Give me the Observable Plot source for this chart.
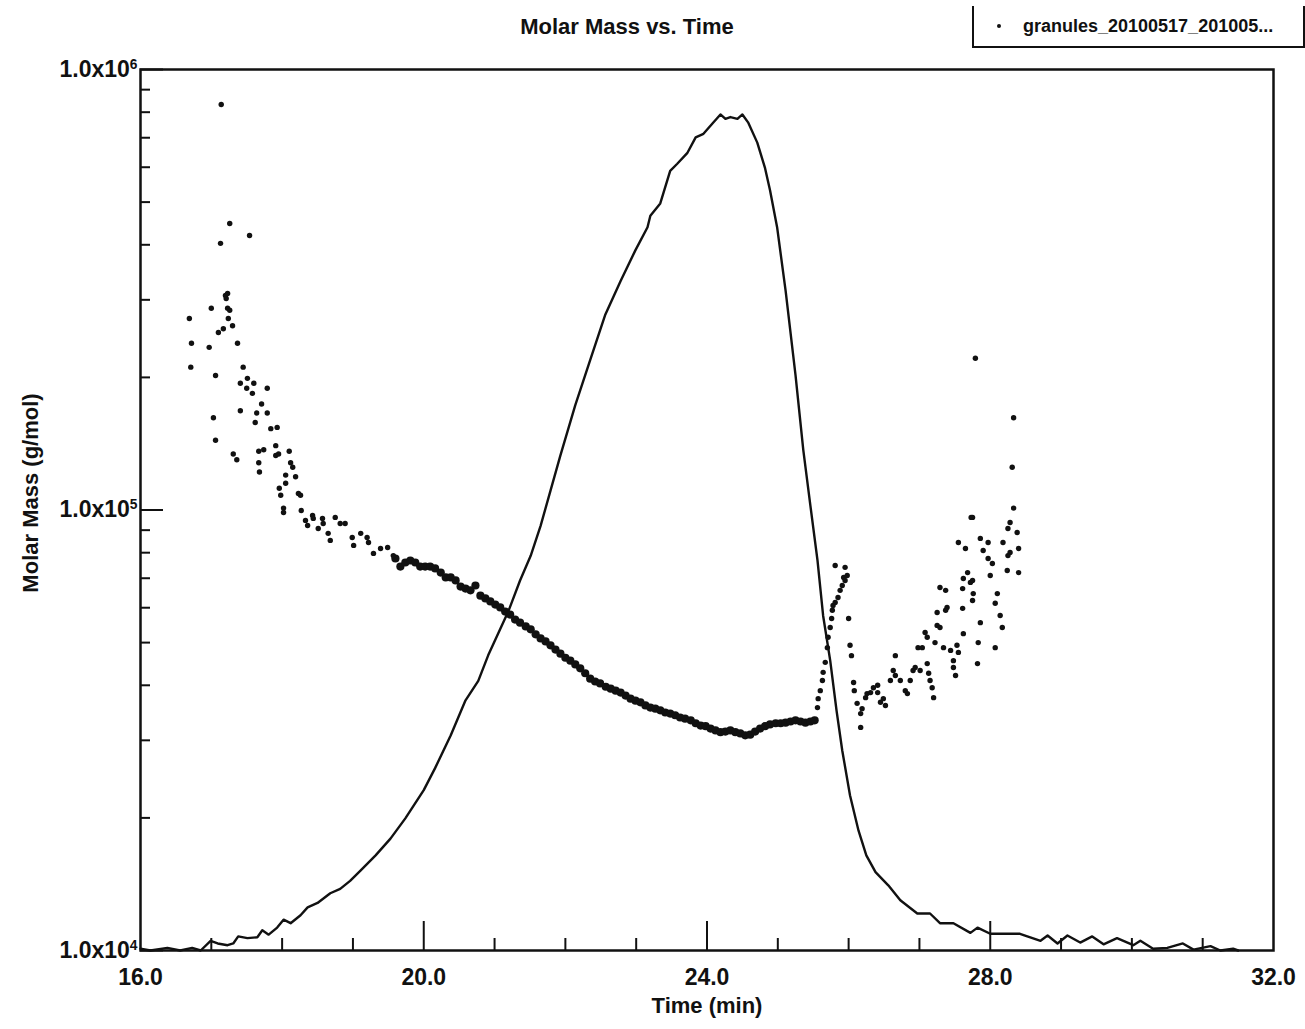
<!DOCTYPE html>
<html>
<head>
<meta charset="utf-8">
<script src="https://cdn.jsdelivr.net/npm/d3@7"></script>
<script src="https://cdn.jsdelivr.net/npm/@observablehq/plot@0.6"></script>
<style>
  html, body { margin: 0; padding: 0; background: #fff; }
  #wrap { position: relative; width: 1305px; height: 1029px; font-family: "Liberation Sans", Arial, Helvetica, sans-serif; }
  #title { position: absolute; left: 0; width: 1254px; top: 16px; text-align: center; font-size: 22px; line-height: 22px; font-weight: bold; color: #111; }
  #legend { position: absolute; left: 972px; top: 6px; width: 329px; height: 40px; border-left: 2px solid #111; border-right: 2px solid #111; border-bottom: 2px solid #111; }
  #legend .txt { position: absolute; left: 49px; top: 11px; font-size: 18px; line-height: 18px; font-weight: bold; color: #111; white-space: nowrap; }
  #legend .mk { position: absolute; left: 23px; top: 18px; width: 4px; height: 4px; border-radius: 2px; background: #111; }
</style>
</head>
<body>
<div id="wrap">
  <div id="chart"></div>
  <div id="title">Molar Mass vs. Time</div>
  <div id="legend"><span class="mk"></span><span class="txt">granules_20100517_201005...</span></div>
</div>
<script>
// ---- detector trace (relative signal, 0 = bottom of frame, 1 = top) ----
const curveTime = [16.00,16.14,16.38,16.56,16.73,16.85,16.99,17.09,17.23,17.31,17.38,17.51,17.65,17.72,17.81,17.93,18.02,18.12,18.26,18.36,18.50,18.68,18.82,18.96,19.11,19.32,19.53,19.74,20.00,20.16,20.38,20.59,20.77,20.91,21.08,21.20,21.36,21.51,21.65,21.79,21.93,22.14,22.35,22.56,22.78,22.99,23.16,23.20,23.34,23.48,23.58,23.72,23.84,23.95,24.08,24.19,24.26,24.33,24.43,24.50,24.58,24.71,24.82,24.89,24.99,25.11,25.25,25.36,25.46,25.56,25.64,25.74,25.83,25.91,26.02,26.14,26.25,26.38,26.56,26.73,26.97,27.15,27.29,27.48,27.72,27.82,28.00,28.42,28.71,28.81,28.95,29.09,29.27,29.44,29.60,29.79,30.02,30.12,30.30,30.50,30.72,30.87,31.11,31.25,31.43,31.50];
const curveSignal = [0.002,0,0.003,0,0.003,0,0.011,0.008,0.006,0.008,0.016,0.014,0.015,0.023,0.018,0.026,0.035,0.031,0.040,0.049,0.054,0.065,0.070,0.079,0.091,0.108,0.127,0.150,0.182,0.207,0.244,0.284,0.306,0.335,0.365,0.386,0.420,0.448,0.482,0.522,0.562,0.619,0.670,0.721,0.760,0.795,0.821,0.834,0.848,0.885,0.893,0.905,0.923,0.927,0.939,0.949,0.944,0.946,0.944,0.949,0.940,0.917,0.888,0.863,0.821,0.749,0.653,0.568,0.505,0.443,0.380,0.329,0.272,0.227,0.176,0.136,0.108,0.089,0.074,0.057,0.042,0.042,0.031,0.031,0.020,0.026,0.019,0.019,0.011,0.017,0.008,0.017,0.009,0.016,0.007,0.014,0.006,0.011,0.002,0.003,0.008,0.001,0.005,0,0.002,0];

// ---- molar mass, dense band ----
const bandTime = [19.60,19.67,19.74,19.81,19.88,19.95,20.02,20.09,20.16,20.24,20.31,20.38,20.45,20.52,20.59,20.66,20.73,20.80,20.87,20.94,21.01,21.08,21.15,21.22,21.29,21.36,21.44,21.51,21.58,21.65,21.72,21.79,21.86,21.93,22.00,22.07,22.14,22.21,22.28,22.35,22.42,22.49,22.57,22.64,22.71,22.78,22.85,22.92,22.99,23.06,23.13,23.20,23.27,23.34,23.41,23.48,23.55,23.62,23.69,23.77,23.84,23.91,23.98,24.05,24.12,24.19,24.26,24.33,24.40,24.47,24.54,24.61,24.68,24.75,24.82,24.89,24.97,25.04,25.11,25.18,25.25,25.32,25.39,25.46,25.52];
const bandMass = [77600,74400,76000,76800,76000,74400,74400,74400,73700,72100,70300,70300,69200,67000,66300,65700,67400,63900,63000,62000,61000,60100,58800,57900,56400,55500,54400,53600,52200,51100,50300,49300,48200,47200,46200,45500,44600,43700,42600,41400,40800,40400,39700,39300,38900,38500,37900,37300,36900,36600,36000,35600,35400,35100,34700,34500,34200,33800,33600,33300,32800,32400,32300,31900,31600,31300,31400,31600,31300,31100,30800,30900,31400,31900,32300,32600,32800,32800,32900,33100,33300,33100,32900,33100,33300];

// ---- molar mass, sparse points ----
const sparseTime = [17.14,17.26,17.54,17.13,17.21,17.20,17.23,17.00,17.23,17.26,16.69,17.24,17.30,17.17,17.10,16.72,16.97,17.37,16.71,17.45,17.06,17.51,17.41,17.60,17.50,17.79,17.58,17.03,17.06,17.41,17.64,17.71,17.79,17.62,17.84,17.93,17.31,17.36,17.67,17.74,17.67,17.68,17.91,17.91,17.95,18.10,18.12,18.15,18.05,18.19,17.96,18.05,17.98,18.23,18.26,18.02,18.02,18.27,18.33,18.36,18.43,18.44,18.57,18.58,18.51,18.65,18.68,18.75,18.82,18.89,18.99,19.01,19.11,19.20,19.22,19.29,19.39,19.49,19.57,
  25.56,25.57,25.60,25.63,25.64,25.67,25.70,25.71,25.74,25.76,25.77,25.78,25.81,25.85,25.88,25.91,25.93,25.95,25.98,25.81,25.95,26.00,26.02,26.04,26.07,26.08,26.12,26.17,26.19,26.17,26.24,26.26,26.31,26.35,26.41,26.41,26.45,26.52,26.49,26.59,26.63,26.66,26.73,26.66,26.83,26.80,26.87,26.91,26.94,27.01,27.11,27.13,27.15,27.18,27.20,26.98,27.04,27.08,27.11,27.22,27.34,27.44,27.48,27.48,27.51,27.25,27.25,27.29,27.39,27.37,27.29,27.37,27.55,27.65,27.68,27.61,27.62,27.72,27.75,27.76,27.75,27.61,27.62,27.53,27.55,27.75,27.86,27.97,27.90,27.97,28.03,28.00,27.86,27.83,27.82,28.10,28.07,28.14,28.17,28.07,28.18,28.25,28.28,28.24,28.28,28.33,28.38,28.40,28.40,27.79,28.33,28.31,27.73,28.25];
const sparseMass = [833000,447000,420000,403000,302000,307000,310000,287000,287000,284000,272000,272000,262000,258000,253000,239000,234000,239000,211000,211000,202000,199000,194000,194000,189000,189000,184000,162000,144000,168000,166000,174000,166000,158000,153000,154000,134000,130000,136000,137000,128000,122000,140000,133000,134000,136000,128000,125000,120000,119000,112000,115000,108000,109000,108000,101000,98700,99700,94700,92200,97200,95700,95700,93200,90800,88500,85300,96200,93200,93200,86600,83100,88500,86600,84400,79700,81800,82200,78800,
  35600,37300,38900,41000,42800,45100,48700,51400,54100,56700,59200,60700,61700,63300,65700,67400,70300,69200,71000,74800,74100,56700,49300,46700,40600,38900,36400,34500,35400,32100,37500,38300,38500,39500,40000,38500,36600,36000,37300,41000,43200,42100,41000,46700,38300,38900,41000,43200,43900,43200,44800,42600,41000,39500,37500,48700,48700,52700,51400,50000,48700,48000,45500,43900,42100,58500,54700,54100,60100,59200,66700,65700,84400,81800,72100,66300,69900,68500,69200,64600,62300,59800,52400,49300,47500,96200,86200,84400,80900,77600,75600,71000,55500,50000,44800,64600,61400,57600,54100,48700,84400,78800,80100,72900,93700,101000,88900,81800,72100,221000,162000,125000,96200,90800];

// ---- axes ----
const xLabelTicks = [16, 20, 24, 28, 32];
const xMajorTicks = [20, 24, 28];
const xMinorTicks = [17, 18, 19, 21, 22, 23, 25, 26, 27, 29, 30, 31];
const yMajorTicks = [1e4, 1e5, 1e6];
const yMinorTicks = [2e4, 3e4, 4e4, 5e4, 6e4, 7e4, 8e4, 9e4, 2e5, 3e5, 4e5, 5e5, 6e5, 7e5, 8e5, 9e5];

const curve = curveTime.map((t, i) => ({t, s: curveSignal[i]}));
const band = bandTime.map((t, i) => ({t, m: bandMass[i]}));
const sparse = sparseTime.map((t, i) => ({t, m: sparseMass[i]}));

const W = 1305, H = 1029, mL = 140, mR = 32, mT = 69, mB = 79;
const fw = W - mL - mR, fh = H - mT - mB;

const chart = Plot.plot({
  width: W, height: H,
  marginLeft: mL, marginRight: mR, marginTop: mT, marginBottom: mB,
  x: {domain: [16, 32]},
  y: {type: "log", domain: [1e4, 1e6]},
  style: {fontFamily: '"Liberation Sans", Arial, Helvetica, sans-serif', background: "white", color: "#111"},
  marks: [
    Plot.ruleX(xMajorTicks, {x: d => d, insetTop: fh - 29, stroke: "#111", strokeWidth: 2}),
    Plot.ruleX(xMinorTicks, {x: d => d, insetTop: fh - 12, stroke: "#111", strokeWidth: 2}),
    Plot.ruleY(yMajorTicks, {y: d => d, insetRight: fw - 23, stroke: "#111", strokeWidth: 2}),
    Plot.ruleY(yMinorTicks, {y: d => d, insetRight: fw - 10, stroke: "#111", strokeWidth: 2}),
    Plot.line(curve, {x: "t", y: d => Math.pow(10, 4 + 2 * d.s), stroke: "#111", strokeWidth: 2.4, curve: "linear"}),
    Plot.dot(band, {x: "t", y: "m", r: 4.1, fill: "#111", stroke: "none"}),
    Plot.dot(sparse, {x: "t", y: "m", r: 2.7, fill: "#111", stroke: "none"}),
    Plot.frame({stroke: "#111", strokeWidth: 2.5}),
    Plot.axisX({ticks: xLabelTicks, tickSize: 0, tickPadding: 18, tickFormat: d3.format(".1f"), fontSize: 23, fontWeight: "bold", label: null}),
    Plot.axisY({ticks: yMajorTicks, tickSize: 0, tickPadding: 3, tickFormat: d => "1.0x10^" + Math.round(Math.log10(d)), fontSize: 23, fontWeight: "bold", label: null}),
    Plot.text(["Time (min)"], {text: d => d, frameAnchor: "bottom", dy: 62, fontSize: 22, fontWeight: "bold"}),
    Plot.text(["Molar Mass (g/mol)"], {text: d => d, frameAnchor: "left", textAnchor: "middle", dx: -110, dy: -17, rotate: -90, fontSize: 22, fontWeight: "bold"})
  ]
});

d3.select(chart).selectAll("text").each(function () {
  const t = this.textContent;
  const i = t.indexOf("^");
  if (i >= 0) {
    const sel = d3.select(this);
    sel.text(null);
    sel.append("tspan").text(t.slice(0, i));
    sel.append("tspan").attr("dy", "-0.6em").attr("font-size", "0.6em").text(t.slice(i + 1));
  }
});

document.getElementById("chart").appendChild(chart);
</script>
</body>
</html>
